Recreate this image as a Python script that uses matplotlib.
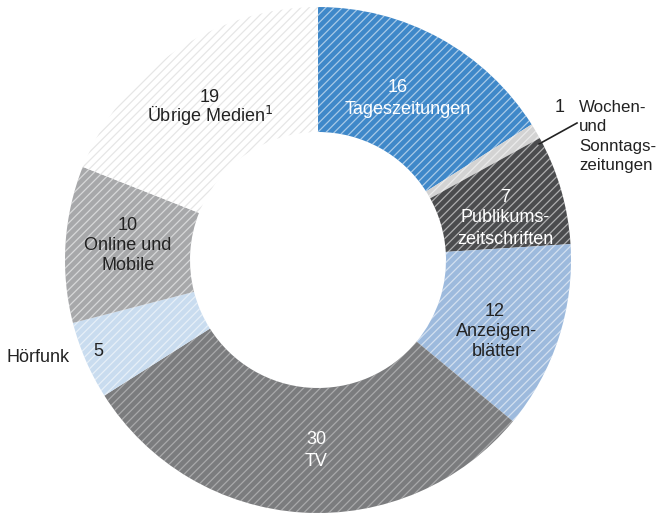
import matplotlib.pyplot as plt
from matplotlib import rcParams

rcParams['font.family'] = ['Liberation Sans Narrow', 'Liberation Sans', 'DejaVu Sans']
rcParams['hatch.linewidth'] = 0.9

# share of advertising spend by media type, in percent (clockwise from 12 o'clock)
categories = ['Tageszeitungen', 'Wochen- und Sonntagszeitungen', 'Publikumszeitschriften',
              'Anzeigenblätter', 'TV', 'Hörfunk', 'Online und Mobile', 'Übrige Medien']
shares = [16, 1, 7, 12, 30, 5, 10, 19]
colors = ['#3f88c9', '#d3d3d3', '#4b4c4e', '#9dbadd', '#7b7c7e', '#c9dcef', '#a7a8aa', '#ffffff']
hatch_colors = ['white', 'white', 'white', 'white', '#cfcfcf', 'white', 'white', '#d2d2d2']

W, H = 660, 517
fig = plt.figure(figsize=(W / 100, H / 100), dpi=100)
ax = fig.add_axes([0, 0, 1, 1])

cx, cy = 318, H - 260
R, ring = 253, 125

wedges, _ = ax.pie(shares, colors=colors, startangle=90, counterclock=False,
                   center=(cx, cy), radius=R,
                   wedgeprops=dict(width=ring, linewidth=0))
# scribbled texture on top of each segment
for w, hc in zip(wedges, hatch_colors):
    ax.add_patch(plt.matplotlib.patches.Wedge(
        w.center, w.r, w.theta1, w.theta2, width=w.width,
        facecolor='none', edgecolor=hc, linewidth=0, hatch='////', alpha=0.55))

ax.set_xlim(0, W)
ax.set_ylim(0, H)
ax.set_aspect('equal')
ax.axis('off')

dark = '#222222'


def put(x, y, s, color, size=13, ha='center'):
    ax.text(x, H - y, s, color=color, fontsize=size, ha=ha, va='center')


put(398, 88, '16', 'white')
put(408, 109, 'Tageszeitungen', 'white')

put(505, 197, '7', 'white')
put(505, 218, 'Publikums-', 'white')
put(505, 239, 'zeitschriften', 'white')

put(495, 311, '12', dark)
put(497, 332, 'Anzeigen-', dark)
put(497, 352, 'blätter', dark)

put(316, 440, '30', 'white')
put(316, 462, 'TV', 'white')

put(98, 351, '5', dark)
put(6, 357, 'Hörfunk', dark, ha='left')

put(128, 226, '10', dark)
put(128, 246, 'Online und', dark)
put(128, 266, 'Mobile', dark)

put(210, 97, '19', dark)
put(210, 116, 'Übrige Medien$^1$', dark)

# small segment labelled outside with a leader line
put(560, 107, '1', dark)
for i, line in enumerate(['Wochen-', 'und', 'Sonntags-', 'zeitungen']):
    put(579, 107 + i * 19.5, line, dark, size=12.2, ha='left')
ax.plot([539, 577], [H - 144, H - 123], color=dark, linewidth=1.2)

fig.savefig('out.png', dpi=100)
